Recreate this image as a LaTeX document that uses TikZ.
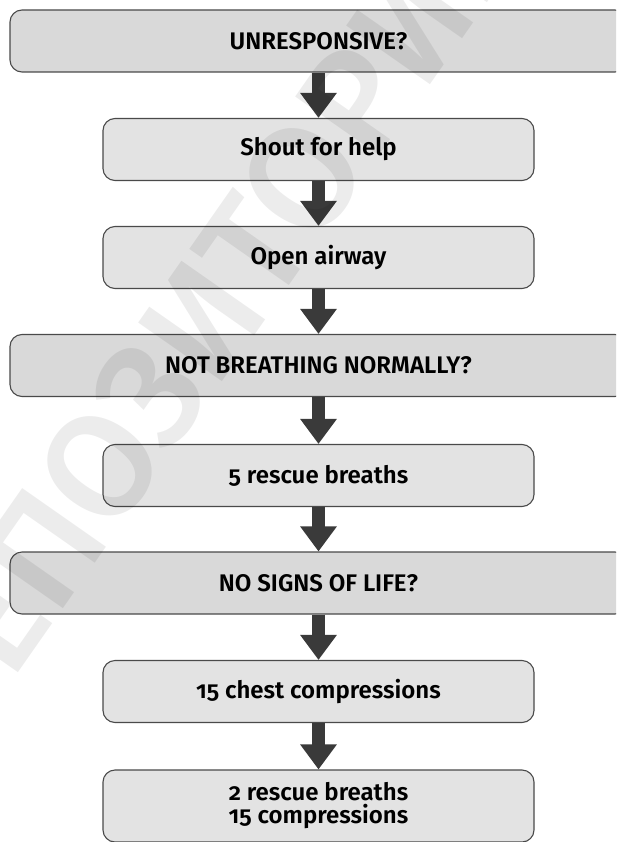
\documentclass[tikz,border=0pt]{standalone}
\usepackage{fontspec}
\IfFontExistsTF{Fira Sans SemiBold}
  {\setmainfont{Fira Sans}[Numbers=OldStyle, BoldFont={Fira Sans SemiBold}]}
  {\setmainfont{Fira Sans}[Numbers=OldStyle]}
\IfFontExistsTF{Fira Sans Medium}
  {\newfontfamily\markfont{Fira Sans Medium}}
  {\newfontfamily\markfont{Fira Sans}}
\usetikzlibrary{arrows.meta}

\definecolor{qfill}{HTML}{D9D9D9}
\definecolor{afill}{HTML}{E3E3E3}
\definecolor{edge}{HTML}{4A4A4A}
\definecolor{arrowc}{HTML}{3A3A3A}

\begin{document}
\begin{tikzpicture}[x=1pt, y=-1pt,
  box/.style={draw=edge, line width=1.1pt, rounded corners=12pt, inner sep=0pt,
    align=center, text=black, font=\fontsize{24}{23}\selectfont\bfseries},
  question/.style={box, fill=qfill, minimum width=617pt, minimum height=62pt},
  action/.style={box, fill=afill, minimum width=431pt, minimum height=62pt},
  flow/.style={draw=arrowc, line width=13pt,
    -{Triangle[length={25pt 0}, width={35pt 0}]}}]

  % page
  \fill[white] (0,0) rectangle (616,842);
  \useasboundingbox (0,0) rectangle (616,842);
  \clip (0,0) rectangle (616,842);

  % steps
  \node[question] (b1) at (318.5,41)    {UNRESPONSIVE?};
  \node[action]   (b2) at (318.5,149.5) {Shout for help};
  \node[action]   (b3) at (318.5,257.5) {Open airway};
  \node[question] (b4) at (318.5,365.5) {NOT BREATHING NORMALLY?};
  \node[action]   (b5) at (318.5,475.5) {5 rescue breaths};
  \node[question] (b6) at (318.5,583)   {NO SIGNS OF LIFE?};
  \node[action]   (b7) at (318.5,691.5) {15 chest compressions};
  \node[action, minimum height=72pt] (b8) at (318.5,806) {2 rescue breaths\\15 compressions};

  % connectors
  \foreach \a/\b in {b1/b2, b2/b3, b3/b4, b4/b5, b5/b6, b6/b7, b7/b8}
    \draw[flow] (\a.south) -- (\b.north);

  % watermark
  \node[rotate=55, text=black, opacity=0.075, font=\fontsize{148}{148}\selectfont\markfont]
    at (195,305) {РЕПОЗИТОРИЙ};
\end{tikzpicture}
\end{document}
